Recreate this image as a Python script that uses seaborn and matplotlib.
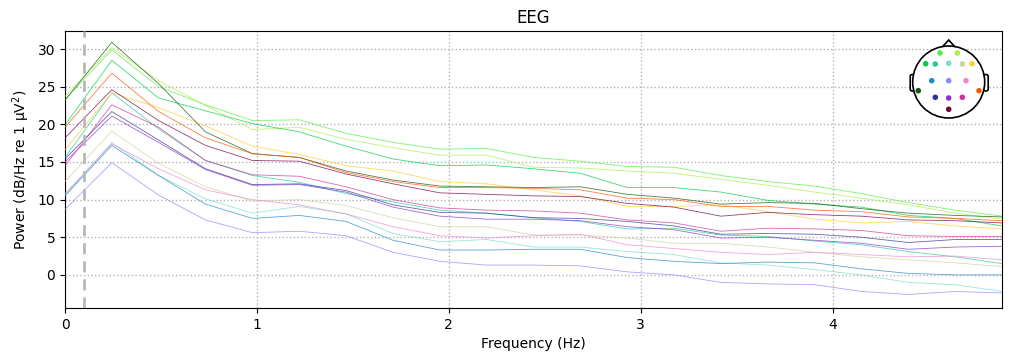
import pandas as pd
import seaborn as sns
import matplotlib
matplotlib.use('Agg')
from matplotlib import pyplot as plt
from matplotlib.patches import Circle, Polygon, FancyBboxPatch

# frequency bins (Hz)
freqs = [0.0, 0.244, 0.488, 0.732, 0.977, 1.221, 1.465, 1.709, 1.953, 2.197, 2.441,
         2.686, 2.930, 3.174, 3.418, 3.662, 3.906, 4.150, 4.395, 4.639, 4.883]

channels = ['Fp1', 'Fp2', 'F7', 'F3', 'Fz', 'F4', 'F8', 'T3', 'C3', 'Cz', 'C4', 'T4',
            'P3', 'Pz', 'P4', 'O']

# PSD in dB per channel
psd_Fp1 = [23.3, 29.9, 25.0, 22.6, 20.5, 20.6, 18.8, 17.6, 16.7, 16.8, 15.6, 15.1, 14.4, 14.3, 13.2, 12.4, 11.8, 10.8, 9.6, 8.6, 7.8]
psd_Fp2 = [23.7, 30.2, 25.8, 22.5, 19.3, 19.6, 18.0, 16.9, 15.9, 15.9, 14.3, 14.2, 13.8, 13.5, 12.7, 11.9, 11.0, 10.2, 9.3, 8.2, 7.4]
psd_F7 = [19.9, 28.5, 23.5, 21.8, 20.1, 19.0, 17.1, 15.4, 14.5, 14.6, 14.1, 13.5, 11.6, 11.6, 11.0, 9.9, 9.4, 9.0, 7.9, 7.5, 6.5]
psd_F3 = [15.6, 24.2, 19.4, 15.2, 13.2, 12.3, 10.8, 9.7, 8.6, 8.2, 7.6, 7.1, 6.1, 6.2, 5.3, 5.1, 4.5, 4.0, 3.1, 2.4, 1.5]
psd_Fz = [10.6, 17.6, 13.2, 10.1, 8.2, 9.1, 8.1, 5.5, 4.4, 4.7, 3.7, 3.7, 3.1, 2.7, 1.6, 1.3, 0.7, 0.0, -1.0, -1.3, -2.2]
psd_F4 = [12.4, 19.1, 14.8, 11.7, 9.8, 10.0, 9.2, 7.6, 6.4, 6.4, 5.3, 5.3, 4.9, 4.2, 4.2, 3.7, 3.0, 2.4, 2.0, 1.6, 1.1]
psd_F8 = [16.6, 24.2, 22.2, 19.8, 17.1, 16.0, 14.5, 13.8, 12.4, 12.1, 11.3, 10.5, 9.1, 9.1, 9.3, 8.4, 7.4, 6.9, 7.1, 6.5, 6.1]
psd_T3 = [23.2, 30.9, 25.4, 19.0, 16.1, 15.6, 13.8, 12.6, 11.8, 11.7, 11.6, 11.7, 10.7, 10.2, 9.4, 9.6, 9.5, 8.8, 8.2, 7.9, 7.7]
psd_C3 = [10.5, 17.2, 13.2, 9.4, 7.5, 7.9, 7.1, 4.6, 3.3, 3.3, 3.4, 3.4, 2.3, 1.8, 1.5, 1.7, 1.6, 0.8, 0.2, 0.0, 0.0]
psd_Cz = [8.7, 14.9, 10.6, 7.3, 5.6, 5.8, 5.2, 3.0, 1.8, 1.3, 1.3, 1.2, 0.4, 0.0, -1.0, -1.2, -1.3, -2.2, -2.6, -2.2, -2.4]
psd_C4 = [10.8, 17.4, 14.1, 11.3, 10.0, 9.3, 8.1, 6.4, 5.2, 4.9, 5.2, 5.4, 4.0, 3.5, 3.0, 2.7, 3.0, 2.7, 2.4, 2.5, 2.0]
psd_T4 = [19.6, 26.8, 21.7, 18.2, 16.1, 15.6, 13.6, 12.4, 11.6, 11.6, 11.5, 11.3, 10.2, 10.0, 9.1, 9.1, 8.6, 8.4, 7.7, 7.5, 7.2]
psd_P3 = [15.4, 21.7, 17.9, 14.1, 12.0, 12.1, 11.2, 9.3, 8.3, 8.2, 7.6, 7.5, 7.1, 6.5, 5.4, 5.5, 5.4, 5.0, 4.3, 4.7, 4.7]
psd_Pz = [15.0, 21.1, 17.6, 14.0, 11.9, 12.0, 11.0, 9.0, 7.8, 7.4, 7.4, 7.2, 6.4, 6.0, 4.9, 5.0, 4.6, 4.2, 3.4, 3.7, 3.8]
psd_P4 = [14.5, 22.6, 19.6, 15.2, 13.3, 13.1, 11.7, 10.0, 8.9, 8.6, 8.5, 8.2, 7.3, 6.9, 5.8, 6.2, 6.1, 5.9, 5.2, 5.1, 5.1]
psd_O = [18.2, 24.6, 20.5, 17.2, 15.2, 15.1, 13.4, 12.1, 10.9, 10.7, 10.5, 10.4, 9.5, 9.0, 7.8, 8.3, 8.0, 7.8, 7.3, 7.2, 6.9]

highpass = 0.1

psd = {'Fp1': psd_Fp1, 'Fp2': psd_Fp2, 'F7': psd_F7, 'F3': psd_F3, 'Fz': psd_Fz,
       'F4': psd_F4, 'F8': psd_F8, 'T3': psd_T3, 'C3': psd_C3, 'Cz': psd_Cz,
       'C4': psd_C4, 'T4': psd_T4, 'P3': psd_P3, 'Pz': psd_Pz, 'P4': psd_P4, 'O': psd_O}

# spatial colours (as in the head inset)
colors = {'Fp1': '#55ee44', 'Fp2': '#aaee44', 'F7': '#00cc44', 'F3': '#22cc99',
          'Fz': '#77ddcc', 'F4': '#ccd499', 'F8': '#ffcc33', 'T3': '#115511',
          'C3': '#2288cc', 'Cz': '#8888ff', 'C4': '#ee88cc', 'T4': '#ff5500',
          'P3': '#333399', 'Pz': '#8833cc', 'P4': '#cc3399', 'O': '#770044'}

# sensor positions inside the inset (pixel-like units)
sensor_pos = {'Fp1': (940, 53), 'Fp2': (957.3, 53), 'F7': (925.7, 63.7), 'F3': (935.3, 64),
              'Fz': (948.7, 63.3), 'F4': (962.3, 64), 'F8': (972, 63.7), 'T3': (918.3, 90.7),
              'C3': (931.7, 80.7), 'Cz': (948.7, 80.7), 'C4': (966, 80.7), 'T4': (979, 90.7),
              'P3': (935.3, 97.3), 'Pz': (948.7, 98), 'P4': (962.3, 97.3), 'O': (948.7, 109.3)}

rows = []
for ch in channels:
    for f, v in zip(freqs, psd[ch]):
        rows.append({'channel': ch, 'freq': f, 'power': v})
df = pd.DataFrame(rows)

px = 1/100
fig = plt.figure(figsize=(1011*px, 361*px), dpi=100)
ax = fig.add_axes([65/1011, 1-308/361, 937/1011, 277/361])

sns.lineplot(data=df, x='freq', y='power', hue='channel', palette=colors,
             linewidth=0.6, alpha=0.75, legend=False, ax=ax, zorder=3)

ax.axvline(highpass, color='0.72', linestyle='--', linewidth=2, dashes=(4, 2.5), zorder=4)
ax.set_xlim(0, freqs[-1])
ax.set_ylim(-4.4, 32.4)
ax.set_xticks([0, 1, 2, 3, 4])
ax.set_yticks([0, 5, 10, 15, 20, 25, 30])
ax.grid(True, linestyle=':', color='0.7', linewidth=1)
ax.set_axisbelow(True)
ax.set_title('EEG')
ax.set_xlabel('Frequency (Hz)')
ax.set_ylabel('Power (dB/Hz re 1 µV$^2$)')

# head inset
hx = fig.add_axes([900/1011, 1-125/361, 100/1011, 90/361])
hx.set_xlim(900, 1000)
hx.set_ylim(125, 35)
hx.set_aspect('equal')
hx.axis('off')
cx, cy, r = 948.7, 82.0, 36.0
hx.add_patch(Polygon([(942.5, 46.8), (948.7, 40.0), (954.9, 46.8)], closed=False,
                     fill=False, edgecolor='k', linewidth=1.2))
for ex in (910.2, 983.6):
    hx.add_patch(FancyBboxPatch((ex, 74.5), 4.6, 16.5, boxstyle='round,pad=0,rounding_size=2',
                                facecolor='white', edgecolor='k', linewidth=1.2))
hx.add_patch(Circle((cx, cy), r, facecolor='white', edgecolor='k', linewidth=1.2, zorder=2))
for ch in channels:
    x, y = sensor_pos[ch]
    hx.scatter(x, y, s=16, color=colors[ch], edgecolors='none', zorder=3)

plt.savefig('out.png', dpi=100)
